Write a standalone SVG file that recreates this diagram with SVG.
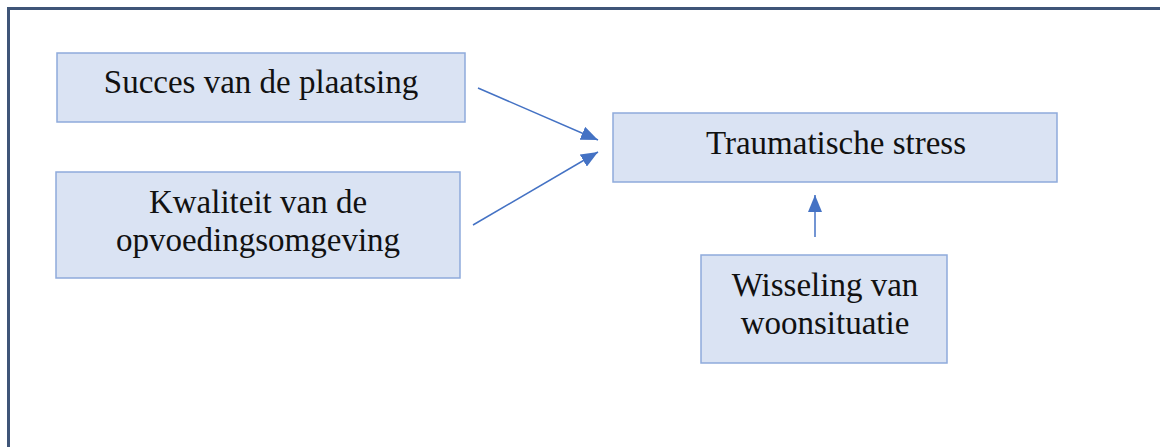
<svg xmlns="http://www.w3.org/2000/svg" width="1160" height="447" viewBox="0 0 1160 447">
<style>
.box{fill:#dae3f3;stroke:#8eaadb;stroke-width:1.5}
.t{font-family:"Liberation Serif","Times New Roman",serif;font-size:33px;fill:#111;text-anchor:middle}
.c{stroke:#4472c4;stroke-width:1.5;fill:none;marker-end:url(#ah)}
</style>
<defs>
<marker id="ah" markerUnits="userSpaceOnUse" markerWidth="17" markerHeight="14" refX="17" refY="7" orient="auto">
<path d="M0,0 L17,7 L0,14 z" fill="#4472c4"/>
</marker>
</defs>
<rect width="1160" height="447" fill="#fff"/>
<path d="M8.5,447 V8.5 H1160" fill="none" stroke="#3f5578" stroke-width="3"/>
<g id="n1"><rect class="box" x="57" y="53" width="408" height="69"/><text class="t" x="261" y="93">Succes van de plaatsing</text></g>
<g id="n2"><rect class="box" x="56" y="172" width="404" height="106"/><text class="t" x="258" y="213">Kwaliteit van de</text><text class="t" x="258" y="251">opvoedingsomgeving</text></g>
<g id="n3"><rect class="box" x="613" y="113" width="444" height="69"/><text class="t" x="836" y="154">Traumatische stress</text></g>
<g id="n4"><rect class="box" x="701" y="255" width="246" height="108"/><text class="t" x="825" y="296">Wisseling van</text><text class="t" x="825" y="334">woonsituatie</text></g>
<g id="connectors">
<line class="c" x1="478" y1="88" x2="598" y2="140"/>
<line class="c" x1="473" y1="225" x2="598" y2="152"/>
<line class="c" x1="815" y1="237" x2="815" y2="195"/>
</g>
</svg>
